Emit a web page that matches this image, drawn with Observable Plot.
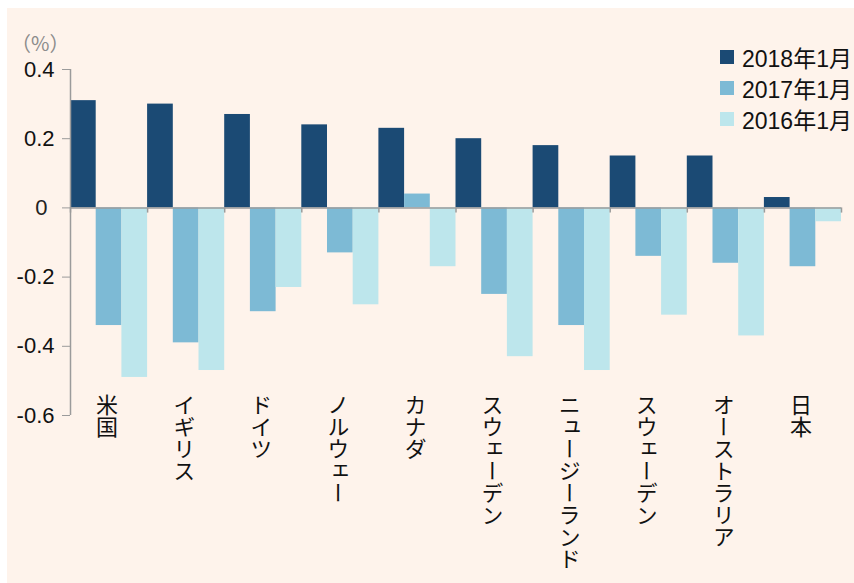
<!DOCTYPE html>
<html lang="ja">
<head>
<meta charset="utf-8">
<script src="https://cdn.jsdelivr.net/npm/d3@7"></script>
<script src="https://cdn.jsdelivr.net/npm/@observablehq/plot@0.6"></script>
<style>
  html, body { margin: 0; padding: 0; background: #ffffff; }
  #wrap { position: relative; width: 854px; height: 583px; overflow: hidden; }
  #bg { position: absolute; left: 7px; top: 8px; right: 0; bottom: 0; background: #fef3eb; }
  #chart { position: absolute; left: 0; top: 0; }
  #unit { position: absolute; left: 11px; top: 28px; font: 20px "Noto Sans CJK JP", sans-serif; color: #8c8c8c; }
  #legend { position: absolute; left: 720px; top: 41px; font: 23px "Liberation Sans", Arial, "Noto Sans CJK JP", sans-serif; color: #111; }
  .row { display: flex; align-items: center; height: 31px; white-space: nowrap; }
  .sw { width: 14px; height: 14px; margin-right: 8px; }
  .vlabel { writing-mode: vertical-rl; text-orientation: upright; }
</style>
</head>
<body>
<div id="wrap">
  <div id="bg"></div>
  <div id="chart"></div>
  <div id="unit">（%）</div>
  <div id="legend"></div>
</div>
<script>
// Countries along the x axis (left to right)
const countries = ["米国", "イギリス", "ドイツ", "ノルウェー", "カナダ", "スウェーデン", "ニュージーランド", "スウェーデン", "オーストラリア", "日本"];
// Series names and their colours
const series = ["2018年1月", "2017年1月", "2016年1月"];
const seriesColors = ["#1b4a74", "#7dbad5", "#bde6ec"];
// Values (%) per series, in country order
const jan2018 = [0.31, 0.30, 0.27, 0.24, 0.23, 0.20, 0.18, 0.15, 0.15, 0.03];
const jan2017 = [-0.34, -0.39, -0.30, -0.13, 0.04, -0.25, -0.34, -0.14, -0.16, -0.17];
const jan2016 = [-0.49, -0.47, -0.23, -0.28, -0.17, -0.43, -0.47, -0.31, -0.37, -0.04];
// Y axis ticks
const yTicks = [0.4, 0.2, 0, -0.2, -0.4, -0.6];

const seriesValues = [jan2018, jan2017, jan2016];
const rows = [];
countries.forEach((c, i) => {
  series.forEach((s, k) => {
    rows.push({country: c, i, k, series: s, value: seriesValues[k][i]});
  });
});
const groupEdges = d3.range(countries.length + 1);
const axisGray = "#9b9b9b";

const chart = Plot.plot({
  width: 854,
  height: 583,
  marginLeft: 70,
  marginRight: 13,
  marginTop: 69,
  marginBottom: 168,
  style: {background: "transparent", overflow: "visible"},
  x: {type: "linear", domain: [0, countries.length], axis: null},
  y: {domain: [-0.6, 0.4], axis: null},
  color: {domain: series, range: seriesColors},
  marks: [
    // grouped bars: three per country
    Plot.rectY(rows, {
      x1: d => d.i + d.k / 3,
      x2: d => d.i + (d.k + 1) / 3,
      y: "value",
      fill: "series"
    }),
    // y axis line
    Plot.ruleX([0], {y1: -0.6, y2: 0.4, stroke: axisGray, strokeWidth: 1.5}),
    Plot.axisY({
      ticks: yTicks,
      label: null,
      tickSize: 8,
      tickPadding: 8,
      tickFormat: d => (d === 0 ? "" : d.toFixed(1)),
      stroke: axisGray,
      fill: "#111",
      fontSize: 22,
      fontFamily: "Liberation Sans, Arial, sans-serif"
    }),
    Plot.text([0], {
      y: d => d,
      frameAnchor: "left",
      dx: -23,
      text: d => String(d),
      textAnchor: "end",
      fill: "#222",
      fontSize: 22,
      fontFamily: "Liberation Sans, Arial, sans-serif"
    }),
    // zero line with ticks between country groups
    Plot.ruleY([0], {stroke: axisGray, strokeWidth: 1.5}),
    Plot.ruleX(groupEdges, {x: d => d, y1: 0, y2: -0.015, stroke: axisGray, strokeWidth: 1.5}),
    // vertical country names
    Plot.text(countries, {
      x: (d, i) => i + 0.5,
      frameAnchor: "bottom",
      dx: -2,
      dy: -22,
      text: d => d,
      textAnchor: "start",
      lineAnchor: "bottom",
      fontSize: 22,
      fontFamily: "Noto Sans CJK JP, sans-serif",
      fill: "#111",
      ariaLabel: "country-label"
    })
  ]
});

// write country names top-to-bottom
const names = new Set(countries);
d3.select(chart).selectAll("text")
  .filter(function () { return names.has(this.textContent); })
  .attr("y", null)
  .attr("class", "vlabel")
  .attr("writing-mode", "vertical-rl")
  .style("writing-mode", "vertical-rl")
  .style("text-orientation", "upright");

document.getElementById("chart").appendChild(chart);

// legend
const legend = d3.select("#legend");
series.forEach((s, k) => {
  const row = legend.append("div").attr("class", "row");
  row.append("div").attr("class", "sw").style("background", seriesColors[k]);
  row.append("span").text(s);
});
</script>
</body>
</html>
